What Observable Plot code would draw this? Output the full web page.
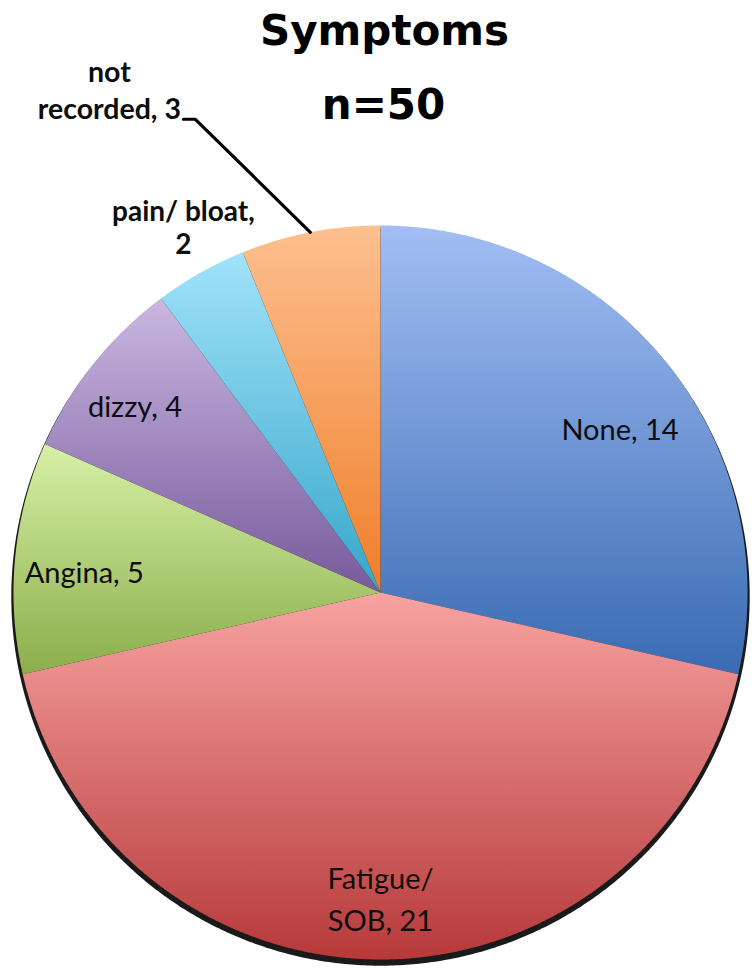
<!DOCTYPE html>
<html>
<head>
<meta charset="utf-8">
<script src="https://cdn.jsdelivr.net/npm/d3@7"></script>
<script src="https://cdn.jsdelivr.net/npm/@observablehq/plot@0.6"></script>
<style>
  body { margin: 0; background: #fff; }
  #chart { width: 754px; height: 972px; }
</style>
</head>
<body>
<div id="chart"></div>
<script>
// ---- data ----
const categories = ["None", "Fatigue/ SOB", "Angina", "dizzy", "pain/ bloat", "not recorded"];
const counts = [14, 21, 5, 4, 2, 3];
const labels = ["None, 14", "Fatigue/\nSOB, 21", "Angina, 5", "dizzy, 4", "pain/ bloat,\n2", "not\nrecorded, 3"];
const titleLines = ["Symptoms", "n=50"];

// ---- styles ----
const gradTop = ["#A2BEF4", "#F7A3A1", "#D7F0A6", "#CAB7E1", "#A1E3FA", "#FDC090"];
const gradBottom = ["#3A6BB3", "#B7393A", "#8BAE4B", "#775A9C", "#37A6C9", "#EF7E2A"];
const R = 367; // pixels per data unit (pie radius)
const cx = 380, cy = 592, W = 754, H = 972;
// label placement: radius fraction along mid-angle, plus pixel offsets
const labelStyle = [
  {k: 0.8, dx: 10, dy: 31, bold: false, size: 29, lh: 1.45},
  {k: 0.8, dx: 0, dy: 45, bold: false, size: 29, lh: 1.45},
  {k: 0.8, dx: -4, dy: 19, bold: false, size: 29, lh: 1.2},
  {k: 0.8, dx: -16, dy: 8, bold: false, size: 29, lh: 1.2},
  {k: 1.0, dx: -17, dy: -19, bold: true, size: 28, lh: 1.18},
  {k: 1.0, dx: -201, dy: -113, bold: true, size: 28.5, lh: 1.3}
];

const arcs = d3.pie().sort(null).value(d => d)(counts);
const pt = (a, r) => ({x: r * Math.sin(a), y: r * Math.cos(a)});

const polys = arcs.map((a, i) => {
  const pts = [{x: 0, y: 0}];
  const n = Math.max(8, Math.ceil((a.endAngle - a.startAngle) / 0.005));
  for (let j = 0; j <= n; j++) pts.push(pt(a.startAngle + (a.endAngle - a.startAngle) * j / n, 1));
  pts.push({x: 0, y: 0});
  return pts;
});

const circle = d3.range(0, 721).map(j => pt(j / 720 * 2 * Math.PI, 1.006));

// leader line for "not recorded": from the label to the slice's outer edge
const lastArc = arcs[5];
const leaderEnd = pt((lastArc.startAngle + lastArc.endAngle) / 2, 1);
const leader = [
  {x: leaderEnd.x - 127 / R, y: leaderEnd.y + 113 / R},
  {x: leaderEnd.x - 115 / R, y: leaderEnd.y + 113 / R},
  leaderEnd
];

const labelMarks = arcs.map((a, i) => {
  const s = labelStyle[i];
  const p = pt((a.startAngle + a.endAngle) / 2, s.k);
  return Plot.text([p], {
    x: "x", y: "y", text: () => labels[i],
    dx: s.dx, dy: s.dy, lineAnchor: "bottom", lineHeight: s.lh,
    textAnchor: "middle", fontFamily: "Lato", fontSize: s.size,
    fontWeight: s.bold ? "bold" : "normal", fill: "#0d0d0d"
  });
});

const svg = Plot.plot({
  width: W, height: H, margin: 0,
  x: {domain: [-cx / R, (W - cx) / R], axis: null},
  y: {domain: [-(H - cy) / R, cy / R], axis: null},
  marks: [
    Plot.line(circle, {x: "x", y: "y", fill: "#1a1a1a", stroke: "none", dy: 4}),
    ...polys.map((p, i) => Plot.line(p, {x: "x", y: "y", fill: `url(#g${i})`, stroke: "none"})),
    Plot.line(leader, {x: "x", y: "y", stroke: "#000", strokeWidth: 3.2}),
    ...labelMarks,
    Plot.text([titleLines[0]], {frameAnchor: "top", text: d => d, dx: 7, dy: 44, lineAnchor: "bottom",
      fontFamily: "DejaVu Sans", fontWeight: "bold", fontSize: 42, fill: "#000"}),
    Plot.text([titleLines[1]], {frameAnchor: "top", text: d => d, dx: 6, dy: 118, lineAnchor: "bottom",
      fontFamily: "DejaVu Sans", fontWeight: "bold", fontSize: 42, fill: "#000"})
  ]
});

const defs = d3.select(svg).insert("defs", ":first-child");
gradTop.forEach((c, i) => {
  const g = defs.append("linearGradient").attr("id", `g${i}`)
    .attr("x1", 0).attr("y1", 0).attr("x2", 0).attr("y2", 1);
  g.append("stop").attr("offset", "0%").attr("stop-color", c);
  g.append("stop").attr("offset", "100%").attr("stop-color", gradBottom[i]);
});

document.getElementById("chart").appendChild(svg);
</script>
</body>
</html>
